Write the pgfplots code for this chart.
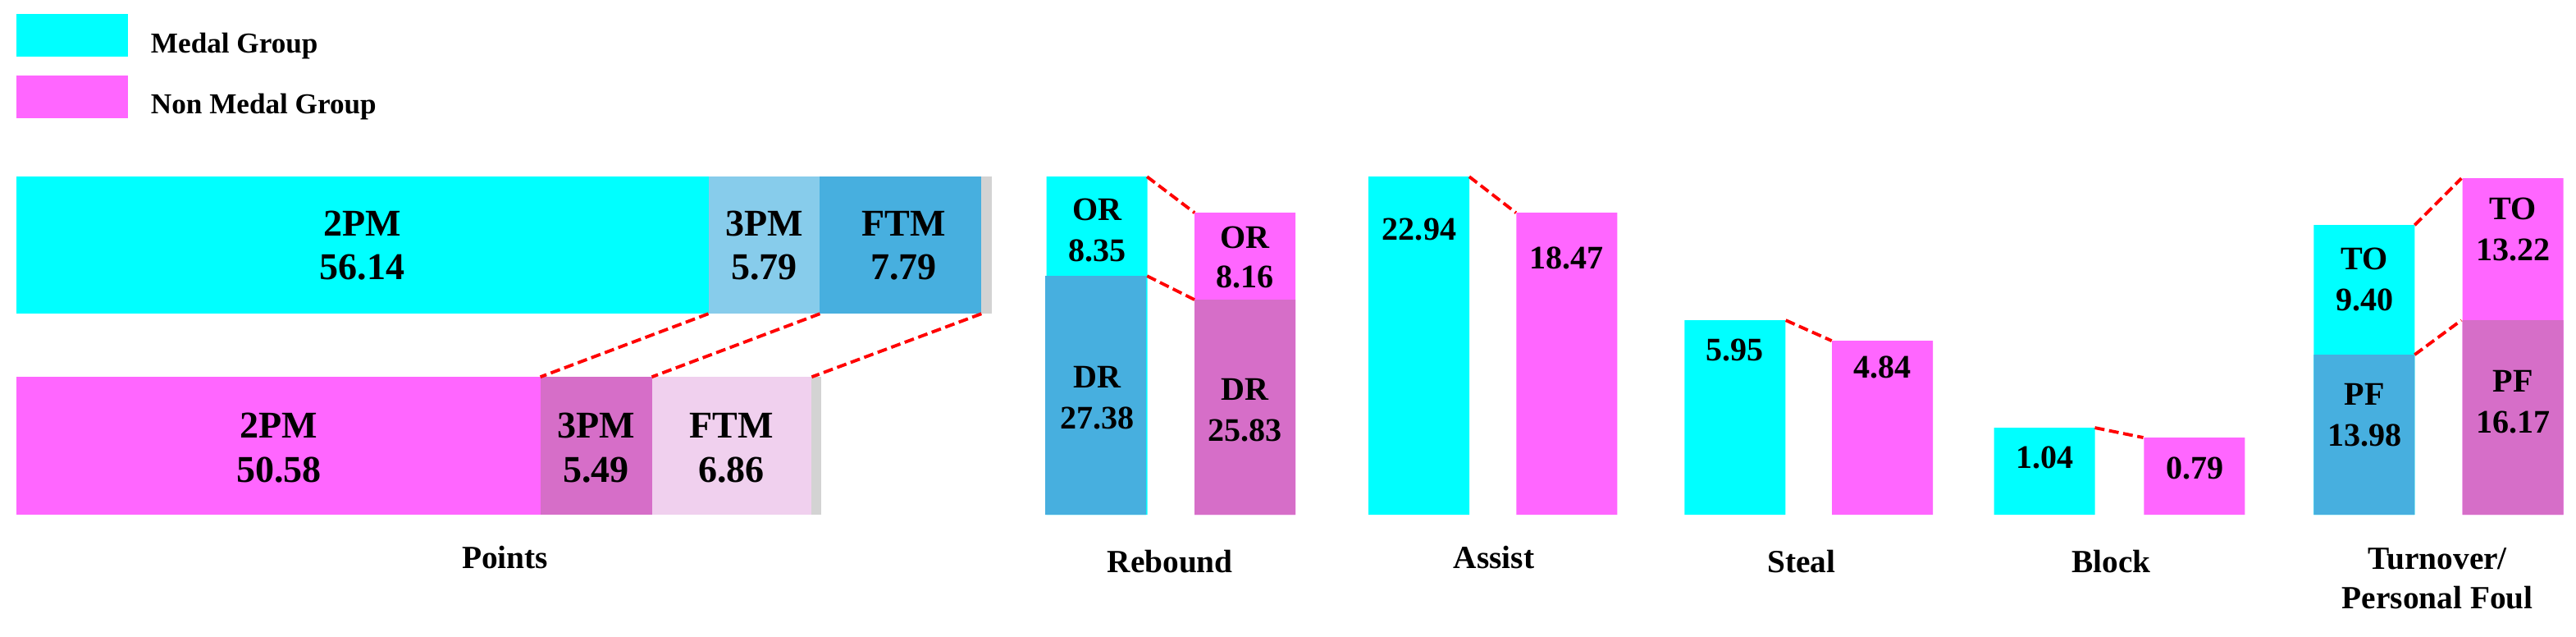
\documentclass[border=0pt]{standalone}
\usepackage{pgfplots}
\pgfplotsset{compat=1.18}
\usepackage{fontspec}
\setmainfont{Liberation Serif}

\definecolor{medal}{HTML}{00FFFF}
\definecolor{nonmedal}{HTML}{FF66FF}
\definecolor{skyA}{HTML}{87CCEB}
\definecolor{steelA}{HTML}{47AFDF}
\definecolor{orchidA}{HTML}{D66EC8}
\definecolor{lavA}{HTML}{F0D0EE}
\definecolor{grayA}{HTML}{D3D3D3}

\newcommand\fP{\fontsize{13.1pt}{15pt}\selectfont\bfseries}
\newcommand\fV{\fontsize{11.4pt}{14pt}\selectfont\bfseries}
\newcommand\fC{\fontsize{11.2pt}{14pt}\selectfont\bfseries}
\newcommand\fL{\fontsize{10pt}{12pt}\selectfont\bfseries}

\pgfplotsset{
  connector/.style={red, line width=1.1pt, dash pattern=on 3.4pt off 1.6pt, forget plot},
  labels/.style={only marks, mark=none, forget plot, nodes near coords, point meta=explicit symbolic,
    every node near coord/.append style={anchor=base, inner sep=0pt, text=black, font=#1}},
}

% Points panel labels (printed values)
\pgfplotstableread[col sep=comma]{
x,y,lab
422,488,2PM
422,435,56.14
912,488,3PM
912,435,5.79
1082,488,FTM
1082,435,7.79
320,242,2PM
320,188,50.58
707,242,3PM
707,188,5.49
872,242,FTM
872,188,6.86
}\pointlabels

\pgfplotstableread[col sep=comma]{
x,y,lab
1338,359,OR
1338,309,8.35
1338,155,DR
1338,105,27.38
1518,325,OR
1518,277,8.16
1518,140,DR
1518,90,25.83
1731,335,22.94
1911,300,18.47
2116,188,5.95
2296,167,4.84
2494,57,1.04
2677,44,0.79
2884,299,TO
2884,249,9.40
2884,134,PF
2884,84,13.98
3065,360,TO
3065,310,13.22
3065,150,PF
3065,100,16.17
}\barlabels

\pgfplotstableread[col sep=comma]{
x,y,lab
616,-66,Points
1427,-71,Rebound
1822,-66,Assist
2197,-71,Steal
2575,-71,Block
2973,-67,Turnover/
2973,-115,Personal Foul
}\catlabels

\begin{document}
\begin{tikzpicture}
\useasboundingbox (0,0) rectangle (31.4cm,7.75cm);

% ---------------- Points panel (horizontal bars) ----------------
\begin{axis}[
  at={(0.2cm,0cm)}, anchor=origin,
  x=0.01cm, y=0.01cm,
  xmin=-20, xmax=3120, ymin=0, ymax=775,
  hide axis, clip=false,
  legend cell align=left,
  legend image code/.code={\fill[#1] (0cm,-0.145cm) rectangle (1.36cm,0.375cm);},
  legend style={at={(axis cs:0,758)}, anchor=north west, draw=none, fill=none,
    inner sep=0pt, outer sep=0pt, row sep=0.22cm, column sep=0.28cm,
    nodes={inner sep=0pt}, font=\fL},
]
\addlegendimage{fill=medal, draw=none}
\addlegendentry{Medal Group}
\addlegendimage{fill=nonmedal, draw=none}
\addlegendentry{Non Medal Group}

% Medal group row
\addplot[xbar, bar width=1.67cm, bar shift=0pt, draw=none, fill=grayA, forget plot] coordinates {(1190,476.5)};
\addplot[xbar, bar width=1.67cm, bar shift=0pt, draw=none, fill=steelA, forget plot] coordinates {(1177,476.5)};
\addplot[xbar, bar width=1.67cm, bar shift=0pt, draw=none, fill=skyA, forget plot] coordinates {(980,476.5)};
\addplot[xbar, bar width=1.67cm, bar shift=0pt, draw=none, fill=medal, forget plot] coordinates {(844,476.5)};
% Non medal group row
\addplot[xbar, bar width=1.68cm, bar shift=0pt, draw=none, fill=grayA, forget plot] coordinates {(982,232)};
\addplot[xbar, bar width=1.68cm, bar shift=0pt, draw=none, fill=lavA, forget plot] coordinates {(970,232)};
\addplot[xbar, bar width=1.68cm, bar shift=0pt, draw=none, fill=orchidA, forget plot] coordinates {(775,232)};
\addplot[xbar, bar width=1.68cm, bar shift=0pt, draw=none, fill=nonmedal, forget plot] coordinates {(639,232)};

\addplot[connector] coordinates {(844,393) (639,316)};
\addplot[connector] coordinates {(980,393) (775,316)};
\addplot[connector] coordinates {(1177,393) (970,316)};

\addplot[labels=\fP] table[x=x, y=y, meta=lab] {\pointlabels};
\end{axis}

% ---------------- vertical bar panels ----------------
\begin{axis}[
  at={(0cm,1.48cm)}, anchor=origin,
  x=0.01cm, y=0.01cm,
  xmin=0, xmax=3140, ymin=-148, ymax=627,
  hide axis, clip=false,
]
% upper segments / full bars
\addplot[ybar, bar width=1.23cm, bar shift=0pt, draw=none, fill=medal, forget plot]
  coordinates {(1338,412) (1730.5,412) (2116,237) (2493.5,106) (2883.5,353)};
\addplot[ybar, bar width=1.23cm, bar shift=0pt, draw=none, fill=nonmedal, forget plot]
  coordinates {(1518.5,368) (1911,368) (2296,212) (2676.5,94) (3065,410)};
% lower segments (DR, PF)
\addplot[ybar, bar width=1.23cm, bar shift=0pt, draw=none, fill=steelA, forget plot]
  coordinates {(1336.5,291) (2883.5,195)};
\addplot[ybar, bar width=1.23cm, bar shift=0pt, draw=none, fill=orchidA, forget plot]
  coordinates {(1518.5,262) (3065,237)};

\addplot[connector] coordinates {(1399,412) (1457,368)};
\addplot[connector] coordinates {(1399,291) (1457,262)};
\addplot[connector] coordinates {(1792,412) (1849,368)};
\addplot[connector] coordinates {(2178,237) (2234,212)};
\addplot[connector] coordinates {(2555,106) (2614,94)};
\addplot[connector] coordinates {(2945,353) (3002,410)};
\addplot[connector] coordinates {(2945,195) (3002,237)};

\addplot[labels=\fV] table[x=x, y=y, meta=lab] {\barlabels};
\addplot[labels=\fC] table[x=x, y=y, meta=lab] {\catlabels};
\end{axis}
\end{tikzpicture}
\end{document}
